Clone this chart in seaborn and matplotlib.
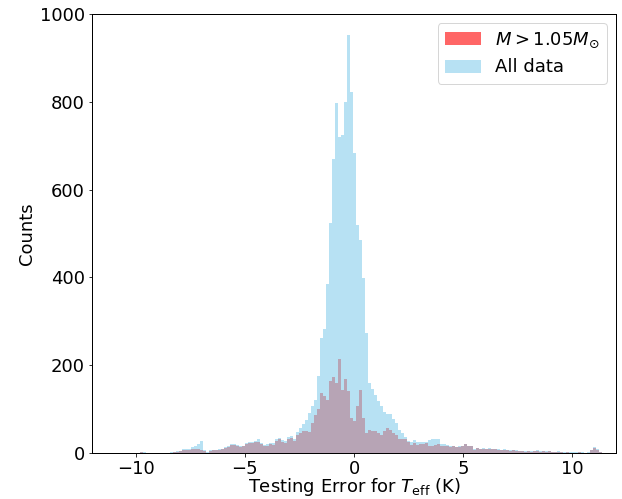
import numpy as np
import pandas as pd
import matplotlib
matplotlib.use("Agg")
import matplotlib.pyplot as plt
import seaborn as sns
from matplotlib.patches import Patch

# Bin layout (width 0.1375 K, first edge at -9.9375 K)
bin_width = 0.1375
first_edge = -9.9375

# Counts per bin, "All data"
all_counts = [
    1, 2, 2, 0, 1, 0, 0, 0, 1, 0,
    1, 2, 3, 4, 5, 8, 8, 9, 13, 16,
    20, 27, 6, 2, 6, 7, 7, 8, 10, 13,
    15, 20, 21, 19, 15, 17, 22, 24, 25, 28,
    31, 23, 18, 20, 23, 22, 31, 35, 29, 27,
    36, 38, 33, 48, 58, 66, 75, 91, 108, 121,
    175, 262, 282, 385, 524, 669, 797, 720, 724, 800,
    952,
    823, 683, 519, 485, 399, 273, 159, 145, 132, 119,
    107, 94, 89, 89, 77, 68, 52, 45, 37, 27,
    24, 30, 24, 26, 24, 26, 30, 33, 31, 33,
    20, 20, 18, 17, 15, 13, 15, 17, 20, 16,
    15, 8, 11,
    10, 11, 10, 11, 9, 9, 8, 7, 8, 7,
    6, 7, 6, 5, 5, 4, 5, 4, 5, 6,
    4, 5, 4, 5, 3, 3, 4, 3, 2, 3,
    2, 2, 2, 3, 2, 1, 2, 7, 13, 8,
    3,
]

# Counts per bin, M > 1.05 Msun
massive_counts = [
    1, 2, 1, 0, 1, 0, 0, 0, 0, 0,
    1, 1, 2, 3, 4, 6, 7, 7, 8, 9,
    8, 7, 4, 1, 5, 6, 6, 7, 9, 11,
    13, 18, 18, 16, 13, 15, 20, 22, 23, 24,
    26, 20, 16, 17, 20, 19, 28, 32, 26, 23,
    32, 34, 28, 40, 46, 50, 50, 47, 68, 87,
    100, 137, 130, 121, 165, 173, 160, 214, 143, 168,
    141,
    79, 72, 107, 143, 79, 45, 52, 49, 49, 45,
    41, 49, 56, 52, 45, 41, 33, 33, 31, 26,
    18, 22, 18, 20, 20, 22, 15, 15, 18, 20,
    17, 17, 15, 14, 15, 13, 13, 17, 20, 15,
    15, 7, 11,
    9, 10, 9, 10, 8, 8, 7, 6, 7, 6,
    5, 6, 5, 4, 4, 3, 4, 3, 4, 5,
    3, 4, 3, 4, 2, 2, 3, 2, 1, 2,
    1, 1, 1, 2, 1, 1, 1, 6, 12, 7,
    2,
]

labels = [r"$M > 1.05M_{\odot}$", "All data"]
x_ticks = [-10, -5, 0, 5, 10]
y_ticks = [0, 200, 400, 600, 800, 1000]

n = len(all_counts)
assert len(massive_counts) == n
centers = first_edge + bin_width * (np.arange(n) + 0.5)
binrange = (first_edge, first_edge + bin_width * n)

df_all = pd.DataFrame({"err": centers, "w": np.asarray(all_counts, float)})
df_mass = pd.DataFrame({"err": centers, "w": np.asarray(massive_counts, float)})

plt.rcParams["font.family"] = ["DejaVu Sans"]
plt.rcParams["font.size"] = 18
plt.rcParams["mathtext.fontset"] = "dejavusans"

DPI = 72
fig = plt.figure(figsize=(622 / DPI, 499 / DPI), dpi=DPI)
ax = fig.add_axes([92 / 622, 1 - 453 / 499, (616 - 92) / 622, (453 - 14) / 499])

red = "red"
blue = "skyblue"
sns.histplot(data=df_mass, x="err", weights="w", binwidth=bin_width,
             binrange=binrange, color=red, alpha=0.6, linewidth=0, ax=ax)
sns.histplot(data=df_all, x="err", weights="w", binwidth=bin_width,
             binrange=binrange, color=blue, alpha=0.6, linewidth=0, ax=ax)

ax.set_xlim(-12, 12)
ax.set_ylim(0, 1000)
ax.set_xticks(x_ticks)
ax.set_yticks(y_ticks)
ax.set_xlabel(r"Testing Error for $T_{\rm eff}$ (K)", fontsize=18, labelpad=-1.5)
ax.set_ylabel("Counts", fontsize=18)
ax.tick_params(labelsize=18)
for s in ax.spines.values():
    s.set_linewidth(1.0)

handles = [Patch(facecolor=red, alpha=0.6, linewidth=0),
           Patch(facecolor=blue, alpha=0.6, linewidth=0)]
ax.legend(handles, labels, loc="upper right", fontsize=18)

fig.savefig("out.png", dpi=DPI)
